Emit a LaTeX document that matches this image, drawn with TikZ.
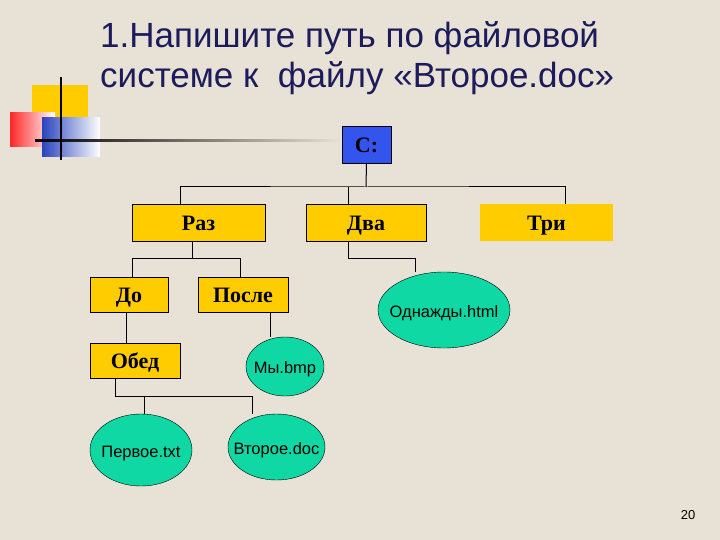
\documentclass[tikz,border=0pt]{standalone}
\usepackage{fontspec}
\setmainfont{Liberation Serif}
\newfontfamily\sansf{Liberation Sans}
\usetikzlibrary{shapes.geometric}
\definecolor{bg}{HTML}{E8E1D5}
\definecolor{yel}{HTML}{FFCC00}
\definecolor{blu}{HTML}{3355EE}
\definecolor{teal}{HTML}{10D8A4}
\definecolor{navy}{HTML}{1C1C5C}
\tikzset{
  boxfont/.style={inner sep=0pt,text height=17pt,text depth=1pt,font=\bfseries\fontsize{22}{22}\selectfont},
  dirbox/.style={draw=black,fill=yel,boxfont},
  filell/.style={ellipse,draw=black,fill=teal,inner sep=-12pt,text height=14pt,text depth=0pt,font=\sansf\fontsize{16.5}{16.5}\selectfont},
  conn/.style={draw=black,line width=1pt}
}
\begin{document}
\begin{tikzpicture}[x=1pt,y=-1pt]
\fill[bg] (0,0) rectangle (720,540);
\useasboundingbox (0,0) rectangle (720,540);
% decoration
\fill[yel] (32,85) rectangle (88,118);
\shade[left color=red!85,right color=white] (10,113) rectangle (55,147);
\shade[left color=blu!80!black,right color=white] (42,118) rectangle (100,157);
\shade[left color=black,right color=bg] (35,140) rectangle (340,142);
\draw[line width=2pt] (61,77) -- (61,160);
% title
\node[anchor=west,text=navy,font=\sansf\fontsize{35}{40}\selectfont,align=left,inner sep=0pt] (title) at (100,58)
  {1.Напишите путь по файловой\\системе к~ файлу «Второе.doc»};
% nodes
\node[draw=black,fill=blu,minimum width=49,minimum height=37,boxfont] (c) at (366.5,144.5) {С:};
\node[dirbox,minimum width=133,minimum height=37] (raz) at (198.5,222.5) {Раз};
\node[dirbox,minimum width=120,minimum height=37] (dva) at (366,222.5) {Два};
\node[fill=yel,minimum width=133,minimum height=37,boxfont] (tri) at (546.5,222.5) {Три};
\node[dirbox,minimum width=78,minimum height=35] (do) at (129,294.5) {До};
\node[dirbox,minimum width=90,minimum height=35] (posle) at (243,294.5) {После};
\node[dirbox,minimum width=90,minimum height=35] (obed) at (135,360.5) {Обед};
\node[filell,minimum width=132,minimum height=76] (odn) at (444,310) {Однажды.html};
\node[filell,minimum width=78,minimum height=59] (my) at (285,366.5) {Мы.bmp};
\node[filell,minimum width=102,minimum height=72] (perv) at (141,450) {Первое.txt};
\node[filell,minimum width=97,minimum height=66] (vtor) at (276.5,447) {Второе.doc};
\node[font=\sansf\fontsize{13}{13}\selectfont] (num) at (688,515) {20};
% connectors
\draw[conn] (c.south) -- (366,187) coordinate (h);
\draw[conn] (raz.north -| 180,0) |- (h) -| (tri.north -| 565,0);
\draw[conn] (dva.north -| 348,0) -- (348,187);
\draw[conn] (raz.south -| 192.5,0) -- (192.5,258);
\draw[conn] (do.north -| 132.5,0) |- (240,258) -- (posle.north -| 240,0);
\draw[conn] (dva.south -| 348,0) |- (415,258) -- (odn.north -| 415,0);
\draw[conn] (do.south -| 126,0) -- (obed.north -| 126,0);
\draw[conn] (posle.south -| 270,0) -- (my.north -| 270,0);
\draw[conn] (obed.south -| 115,0) |- (252.5,396) -- (vtor.north -| 252.5,0);
\draw[conn] (144,396) -- (perv.north -| 144,0);
\end{tikzpicture}
\end{document}
